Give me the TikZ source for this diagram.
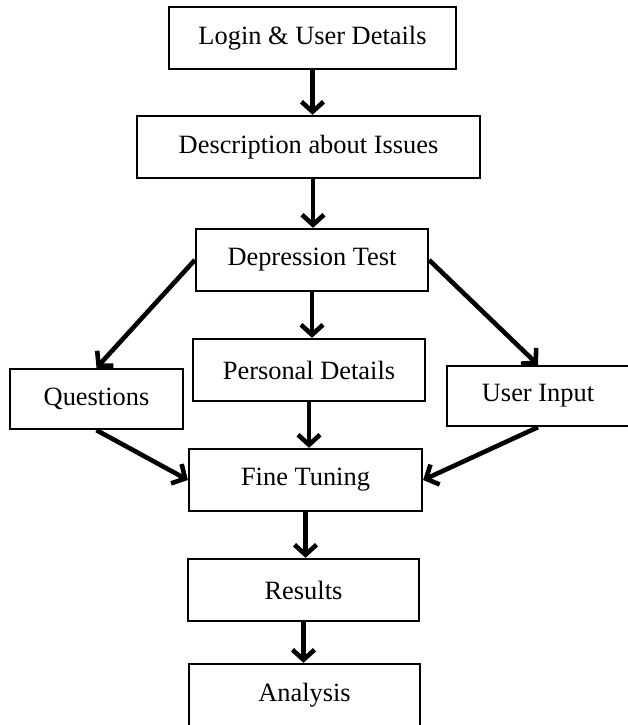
\documentclass[tikz,border=0pt]{standalone}
\usepackage{fontspec}
\setmainfont{Liberation Serif}
\usepackage{tikz}
\usetikzlibrary{positioning}
\usetikzlibrary{arrows.meta}

\tikzset{box/.style={draw, line width=2.3pt, minimum height=62pt, inner sep=0pt,
    font=\fontsize{26.4}{30}\selectfont}}

\begin{document}
\begin{tikzpicture}[->,>={Straight Barb[length=10pt,width=22pt]},x=1pt,y=-1pt,line width=4.6pt]
  \useasboundingbox (0,0) rectangle (627,725);
  \node[box, minimum width=287pt] (A) at (312.5,38)  {Login \& User Details};
  \node[box, minimum width=343pt] (B) at (308.5,147) {Description about Issues};
  \node[box, minimum width=232pt] (C) at (312,260)   {Depression Test};
  \node[box, minimum width=173pt, minimum height=60pt] (D) at (96.5,399) {Questions};
  \node[box, minimum width=232pt] (E) at (309,370)   {Personal Details};
  \node[box, minimum width=182pt, minimum height=60pt] (F) at (538,396) {User Input};
  \node[box, minimum width=233pt] (G) at (305.5,480) {Fine Tuning};
  \node[box, minimum width=231pt] (H) at (303.5,590) {Results};
  \node[box, minimum width=231pt] (I) at (304.5,695) {Analysis};
  % Draw arrows
\path[->] (A.south) edge (A.south |- B.north)
  ([xshift=4.5pt]B.south) edge ([xshift=4.5pt]B.south |- C.north)
  (C.west) edge (D.north)
  (C.south) edge (C.south |- E.north)
  (C.east) edge (F.north)
  (E.south) edge (E.south |- G.north)
  (D.south) edge (G.west)
  (F.south) edge (G.east)
  (G.south) edge (G.south |- H.north)
  (H.south) edge (H.south |- I.north);
\end{tikzpicture}
\end{document}
